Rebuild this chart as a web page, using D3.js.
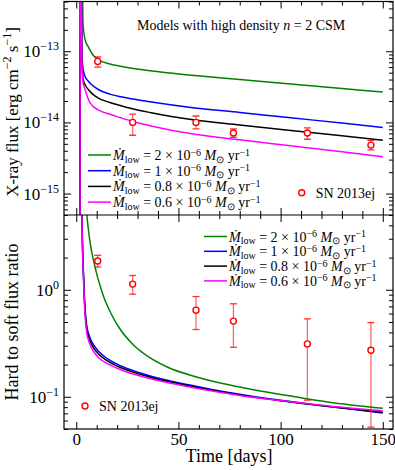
<!DOCTYPE html>
<html>
<head>
<meta charset="utf-8">
<script src="https://cdn.jsdelivr.net/npm/d3@7"></script>
<style>
body { margin: 0; background: #fff; }
text { font-family: "Liberation Serif", "Times New Roman", serif; fill: #000; }
</style>
</head>
<body>
<script>
// observed SN 2013ej points
const obsDays = [10.5, 27.6, 58.6, 76.9, 113.1, 144.2]
const obsFlux = [7.2e-14, 1.0e-14, 1.0e-14, 7.1e-15, 7.1e-15, 4.8e-15]
const obsFluxLo = [6.0e-14, 6.6e-15, 8.1e-15, 6.15e-15, 5.8e-15, 4.1e-15]
const obsFluxHi = [8.3e-14, 1.31e-14, 1.23e-14, 8.1e-15, 8.4e-15, 5.6e-15]
const obsRatio = [1.86, 1.13, 0.645, 0.51, 0.312, 0.272]
const obsRatioLo = [1.63, 0.91, 0.425, 0.29, 0.093, 0.052]
const obsRatioHi = [2.1, 1.36, 0.865, 0.74, 0.535, 0.494]

// model labels (Mdot_low in 1e-6 Msun/yr)
const modelNames = ["2", "1", "0.8", "0.6"]
const modelColors = ["#008000", "#0000ff", "#000000", "#ff00ff"]

// X-ray flux models
const fluxDays2 = [1.8, 2.0, 3.1, 3.3, 4.3, 5.9, 8, 10.8, 16.5, 25, 36, 58, 80, 105, 130, 150]
const flux2 = [1e-17, 1e-11, 5.5e-13, 2.5e-13, 1.46e-13, 1.15e-13, 9e-14, 7.6e-14, 6.6e-14, 5.9e-14, 5.3e-14, 4.56e-14, 4.02e-14, 3.46e-14, 2.99e-14, 2.67e-14]
const fluxDays1 = [1.8, 2.0, 2.5, 2.8, 3.4, 4.5, 5.9, 8, 10.8, 16.5, 25, 36, 58, 80, 105, 130, 150]
const flux1 = [1e-17, 1e-11, 6e-13, 9e-14, 5.5e-14, 4.3e-14, 3.8e-14, 3.3e-14, 2.9e-14, 2.5e-14, 2.2e-14, 1.95e-14, 1.6e-14, 1.38e-14, 1.16e-14, 9.8e-15, 8.5e-15]
const fluxDays08 = [1.8, 2.0, 2.5, 2.8, 3.4, 4.5, 5.9, 8, 10.8, 16.5, 25, 36, 58, 80, 105, 130, 150]
const flux08 = [1e-17, 1e-11, 5e-13, 7e-14, 4.0e-14, 3.3e-14, 2.9e-14, 2.5e-14, 2.2e-14, 1.9e-14, 1.62e-14, 1.38e-14, 1.08e-14, 9.2e-15, 7.7e-15, 6.5e-15, 5.6e-15]
const fluxDays06 = [1.8, 2.0, 2.9, 3.3, 4.3, 6.7, 10.8, 16.5, 21.4, 27.6, 36, 58, 80, 105, 130, 150]
const flux06 = [1e-17, 1e-11, 5e-14, 3.7e-14, 2.9e-14, 1.9e-14, 1.5e-14, 1.3e-14, 1.17e-14, 1.03e-14, 9.0e-15, 6.8e-15, 5.7e-15, 4.69e-15, 3.86e-15, 3.3e-15]

// hard/soft ratio models
const ratioDays2 = [4.4, 5, 5.9, 7, 8.5, 10.5, 13.2, 17, 21.4, 28, 36, 45, 58, 74, 90, 107, 123, 150]
const ratio2 = [8, 5.5, 3.7, 2.6, 1.86, 1.3, 0.885, 0.6, 0.43, 0.305, 0.232, 0.188, 0.155, 0.13, 0.113, 0.1, 0.0895, 0.078]
const ratioDays = [2.6, 3, 3.5, 4, 4.5, 5.2, 6, 7, 8.5, 11, 15, 20, 27, 35, 45, 58, 65, 80, 100, 120, 150]
const ratio1 = [8, 3.0, 1.5, 0.85, 0.6, 0.45, 0.39, 0.345, 0.305, 0.265, 0.229, 0.202, 0.178, 0.159, 0.142, 0.126, 0.1186, 0.1056, 0.0926, 0.0827, 0.0705]
const ratio08 = [7.5, 2.8, 1.4, 0.8, 0.56, 0.42, 0.365, 0.323, 0.287, 0.25, 0.218, 0.194, 0.172, 0.155, 0.139, 0.1235, 0.1165, 0.1042, 0.092, 0.0826, 0.0715]
const ratio06 = [7, 2.6, 1.3, 0.74, 0.52, 0.39, 0.337, 0.298, 0.265, 0.232, 0.205, 0.185, 0.165, 0.15, 0.135, 0.121, 0.1145, 0.1028, 0.0921, 0.0835, 0.074]

const xMajor = [0, 50, 100, 150]
const fluxMajor = [1e-15, 1e-14, 1e-13]
const ratioMajor = [0.1, 1]

const width = 395, height = 470
const left = 64, right = 393, top0 = 1.5, mid = 215, bottom = 429
const red = "#ff0000"

var svg = d3.select("body").append("svg")
  .attr("width", width)
  .attr("height", height)

var x = d3.scaleLinear().domain([-6, 155]).range([left, right])
var yTop = d3.scaleLog().domain([5e-16, 5e-13]).range([mid, top0])
var yBot = d3.scaleLog().domain([0.05, 5]).range([bottom, mid])

var defs = svg.append("defs")
defs.append("clipPath").attr("id", "clipTop").append("rect")
  .attr("x", left).attr("y", top0).attr("width", right - left).attr("height", mid - top0)
defs.append("clipPath").attr("id", "clipBot").append("rect")
  .attr("x", left).attr("y", mid).attr("width", right - left).attr("height", bottom - mid)

const zip = (a, b) => a.map((d, i) => [d, b[i]])
var fluxModels = [zip(fluxDays2, flux2), zip(fluxDays1, flux1), zip(fluxDays08, flux08), zip(fluxDays06, flux06)]
var ratioModels = [zip(ratioDays2, ratio2), zip(ratioDays, ratio1), zip(ratioDays, ratio08), zip(ratioDays, ratio06)]

// model curves
var lineTop = d3.line().x(d => x(d[0])).y(d => yTop(d[1])).curve(d3.curveMonotoneX)
var lineBot = d3.line().x(d => x(d[0])).y(d => yBot(d[1])).curve(d3.curveMonotoneX)

svg.append("g").attr("clip-path", "url(#clipTop)")
  .selectAll("path").data(fluxModels).enter().append("path")
  .attr("d", lineTop)
  .style("fill", "none")
  .style("stroke", (d, i) => modelColors[i])
  .style("stroke-width", 1.5)

svg.append("g").attr("clip-path", "url(#clipBot)")
  .selectAll("path").data(ratioModels).enter().append("path")
  .attr("d", lineBot)
  .style("fill", "none")
  .style("stroke", (d, i) => modelColors[i])
  .style("stroke-width", 1.5)

// error bars + markers
function drawObs(y, vals, lo, hi, clip) {
  var g = svg.append("g").attr("clip-path", clip)
  var eb = g.selectAll(".eb").data(obsDays).enter().append("g")
  eb.append("line")
    .attr("x1", d => x(d)).attr("x2", d => x(d))
    .attr("y1", (d, i) => y(lo[i])).attr("y2", (d, i) => y(hi[i]))
    .style("stroke", red).style("stroke-opacity", 0.6).style("stroke-width", 1.3)
  eb.append("line")
    .attr("x1", d => x(d) - 3.5).attr("x2", d => x(d) + 3.5)
    .attr("y1", (d, i) => y(lo[i])).attr("y2", (d, i) => y(lo[i]))
    .style("stroke", red).style("stroke-opacity", 0.8).style("stroke-width", 1.3)
  eb.append("line")
    .attr("x1", d => x(d) - 3.5).attr("x2", d => x(d) + 3.5)
    .attr("y1", (d, i) => y(hi[i])).attr("y2", (d, i) => y(hi[i]))
    .style("stroke", red).style("stroke-opacity", 0.8).style("stroke-width", 1.3)
  g.selectAll("circle").data(obsDays).enter().append("circle")
    .attr("cx", d => x(d)).attr("cy", (d, i) => y(vals[i]))
    .attr("r", 3)
    .style("fill", "#fff").style("stroke", red).style("stroke-width", 1.4)
}
drawObs(yTop, obsFlux, obsFluxLo, obsFluxHi, "url(#clipTop)")
drawObs(yBot, obsRatio, obsRatioLo, obsRatioHi, "url(#clipBot)")

// axes (ticks point inward)
function clean(g) { g.select(".domain").remove(); g.selectAll("line").style("stroke", "#000").style("stroke-width", 1) }
var xMinor = x.ticks(20).filter(d => xMajor.indexOf(d) < 0)

function xAxes(yPos, dir, showLabels) {
  var ax = dir === "up" ? d3.axisBottom(x) : d3.axisTop(x)
  svg.append("g").attr("transform", "translate(0," + yPos + ")")
    .call(ax.tickValues(xMajor).tickSize(-7).tickPadding(4).tickFormat(showLabels ? d3.format("d") : ""))
    .call(clean)
    .call(g => g.selectAll("text").style("font-size", "17px").style("font-family", "Liberation Serif"))
  var ax2 = dir === "up" ? d3.axisBottom(x) : d3.axisTop(x)
  svg.append("g").attr("transform", "translate(0," + yPos + ")")
    .call(ax2.tickValues(xMinor).tickSize(-4).tickFormat(""))
    .call(clean)
}
xAxes(top0, "down", false)
xAxes(mid, "up", false)
xAxes(mid, "down", false)
xAxes(bottom, "up", true)

const supMinus = v => "\u2212" + Math.abs(Math.round(Math.log10(v)))
function yAxes(y, major) {
  var minor = y.ticks().filter(d => major.indexOf(d) < 0)
  var gl = svg.append("g").attr("transform", "translate(" + left + ",0)")
    .call(d3.axisLeft(y).tickValues(major).tickSize(-7).tickPadding(5).tickFormat(""))
    .call(clean)
  gl.selectAll(".tick text").each(function (d) {
    var t = d3.select(this).style("font-size", "17px").style("font-family", "Liberation Serif")
    t.append("tspan").text("10")
    t.append("tspan").attr("dy", -7).style("font-size", "12px")
      .text(Math.log10(d) < -0.5 ? supMinus(d) : "0")
  })
  svg.append("g").attr("transform", "translate(" + left + ",0)")
    .call(d3.axisLeft(y).tickValues(minor).tickSize(-4).tickFormat(""))
    .call(clean)
  svg.append("g").attr("transform", "translate(" + right + ",0)")
    .call(d3.axisRight(y).tickValues(major).tickSize(-7).tickFormat(""))
    .call(clean)
  svg.append("g").attr("transform", "translate(" + right + ",0)")
    .call(d3.axisRight(y).tickValues(minor).tickSize(-4).tickFormat(""))
    .call(clean)
}
yAxes(yTop, fluxMajor)
yAxes(yBot, ratioMajor)

// frames
svg.append("rect").attr("x", left).attr("y", top0).attr("width", right - left).attr("height", bottom - top0)
  .style("fill", "none").style("stroke", "#000").style("stroke-width", 1.2)
svg.append("line").attr("x1", left).attr("x2", right).attr("y1", mid).attr("y2", mid)
  .style("stroke", "#000").style("stroke-width", 1.2)

// title
var title = svg.append("text").attr("x", 137).attr("y", 30).style("font-size", "14px")
title.append("tspan").text("Models with high density ")
title.append("tspan").style("font-style", "italic").text("n")
title.append("tspan").text(" = 2 CSM")

// legends
function mdotText(sel, val) {
  sel.append("tspan").style("font-style", "italic").text("\u1E40")
  sel.append("tspan").style("font-size", "10px").attr("dy", 2.5).text("low")
  sel.append("tspan").attr("dy", -2.5).text(" = " + val + " \u00D7 10")
  sel.append("tspan").style("font-size", "10px").attr("dy", -4.5).text("\u22126")
  sel.append("tspan").attr("dy", 4.5).text(" ")
  sel.append("tspan").style("font-style", "italic").text("M")
  sel.append("tspan").style("font-size", "10px").attr("dy", 2.5).text("\u2299")
  sel.append("tspan").attr("dy", -2.5).text(" yr")
  sel.append("tspan").style("font-size", "10px").attr("dy", -4.5).text("\u22121")
}
function modelLegend(x0, y0, step) {
  var g = svg.append("g").selectAll("g").data(modelNames).enter().append("g")
    .attr("transform", (d, i) => "translate(" + x0 + "," + (y0 + i * step) + ")")
  g.append("line").attr("x1", 0).attr("x2", 23)
    .style("stroke", (d, i) => modelColors[i]).style("stroke-width", 1.5)
  g.append("text").attr("x", 25).attr("y", 5).style("font-size", "14px")
    .each(function (d) { mdotText(d3.select(this), d) })
}
modelLegend(88, 155, 15.7)
modelLegend(204, 236.5, 14.8)

function obsLegend(cx, cy) {
  svg.append("circle").attr("cx", cx).attr("cy", cy).attr("r", 3)
    .style("fill", "#fff").style("stroke", red).style("stroke-width", 1.4)
  svg.append("text").attr("x", cx + 14).attr("y", cy + 5).style("font-size", "14px").text("SN 2013ej")
}
obsLegend(301.7, 192.7)
obsLegend(85, 406)

// axis labels
var yl1 = svg.append("text").attr("transform", "translate(18,112) rotate(-90)")
  .attr("text-anchor", "middle").style("font-size", "17px")
yl1.append("tspan").text("X-ray flux [erg cm")
yl1.append("tspan").attr("dy", -7).style("font-size", "12px").text("\u22122")
yl1.append("tspan").attr("dy", 7).text(" s")
yl1.append("tspan").attr("dy", -7).style("font-size", "12px").text("\u22121")
yl1.append("tspan").attr("dy", 7).text("]")

svg.append("text").attr("transform", "translate(18,322) rotate(-90)")
  .attr("text-anchor", "middle").style("font-size", "18px").text("Hard to soft flux ratio")

svg.append("text").attr("x", 229).attr("y", 462).attr("text-anchor", "middle")
  .style("font-size", "18px").text("Time [days]")
</script>
</body>
</html>
